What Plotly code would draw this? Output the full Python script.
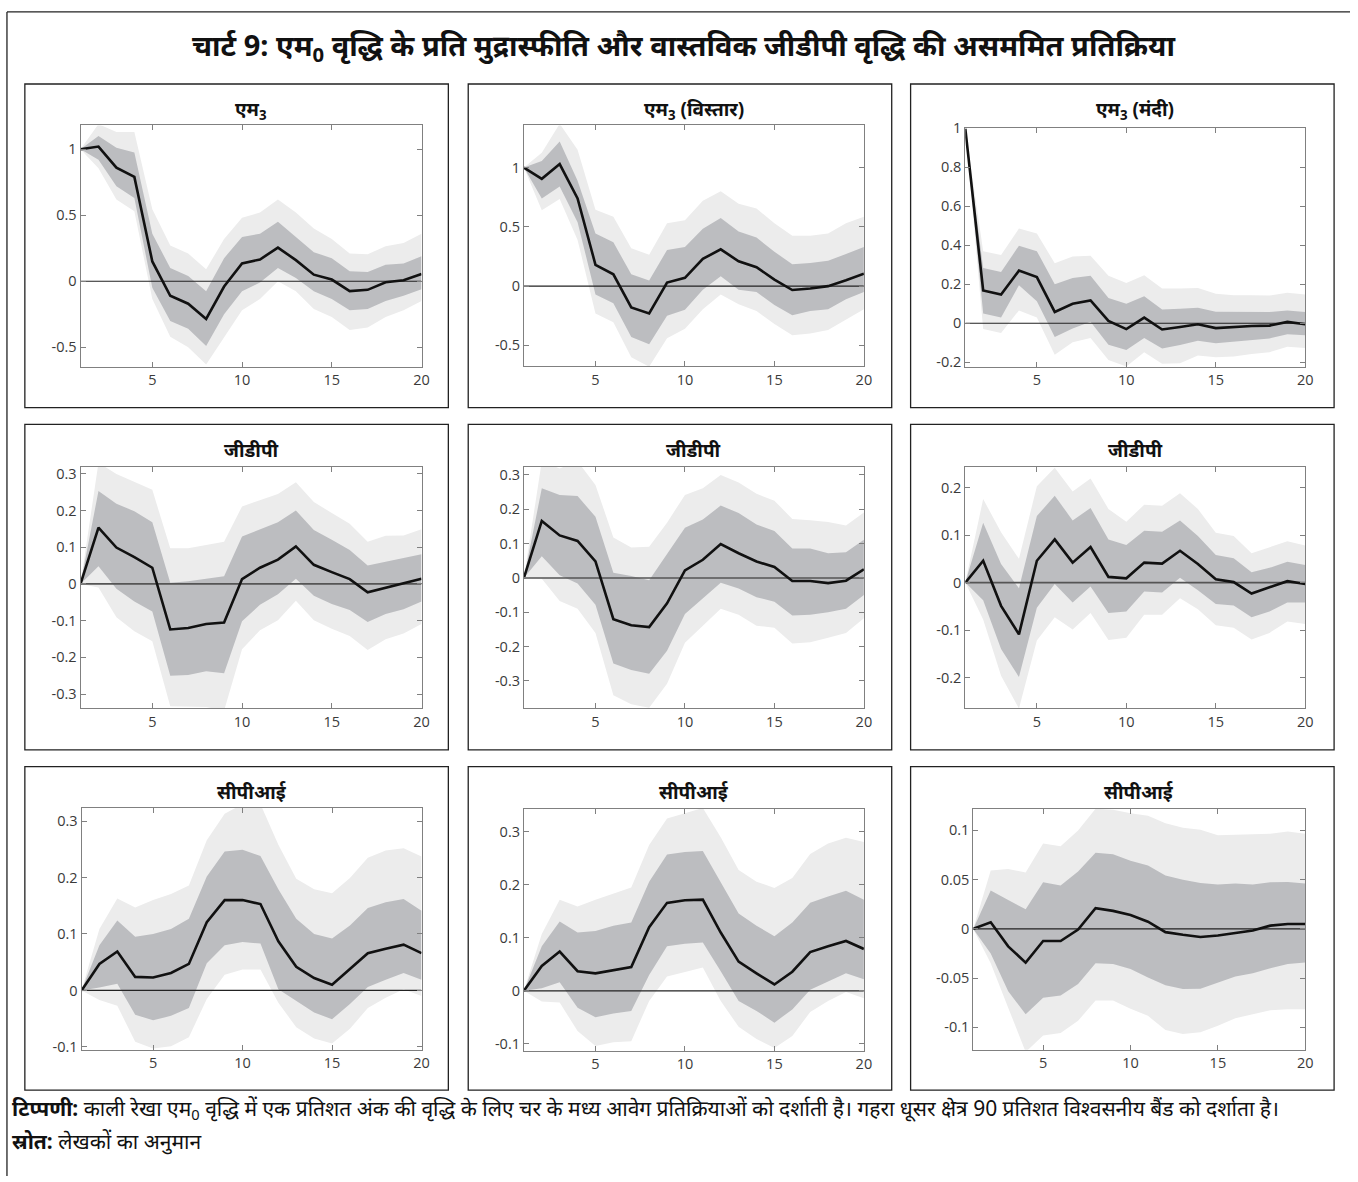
import plotly.graph_objects as go

W, H = 1358, 1182

# Horizon (quarters)
horizon = list(range(1, 21))

# ---- M3 : full sample / expansion / recession ----
m3_all_mid = [1.0, 1.02, 0.86, 0.79, 0.15, -0.11, -0.17, -0.285, -0.04, 0.135, 0.165, 0.255, 0.16, 0.05, 0.013, -0.075, -0.065, -0.008, 0.008, 0.055]
m3_all_dhi = [1.0, 1.10, 1.01, 0.975, 0.36, 0.10, 0.04, -0.075, 0.175, 0.335, 0.36, 0.45, 0.335, 0.22, 0.175, 0.075, 0.07, 0.125, 0.135, 0.19]
m3_all_dlo = [1.0, 0.92, 0.72, 0.63, -0.05, -0.30, -0.36, -0.49, -0.25, -0.075, -0.01, 0.10, 0.025, -0.075, -0.135, -0.22, -0.21, -0.15, -0.11, -0.06]
m3_all_lhi = [1.0, 1.19, 1.13, 1.13, 0.545, 0.27, 0.21, 0.09, 0.32, 0.48, 0.52, 0.62, 0.52, 0.40, 0.32, 0.21, 0.205, 0.265, 0.29, 0.36]
m3_all_llo = [1.0, 0.855, 0.62, 0.53, -0.135, -0.42, -0.50, -0.63, -0.42, -0.22, -0.135, 0.0, -0.075, -0.21, -0.27, -0.37, -0.35, -0.27, -0.22, -0.15]

m3_exp_mid = [1.0, 0.905, 1.03, 0.74, 0.18, 0.10, -0.18, -0.23, 0.03, 0.07, 0.23, 0.31, 0.21, 0.16, 0.055, -0.033, -0.02, 0.0, 0.05, 0.105]
m3_exp_dhi = [1.0, 1.055, 1.22, 0.89, 0.445, 0.37, 0.10, 0.047, 0.305, 0.33, 0.485, 0.575, 0.46, 0.41, 0.29, 0.185, 0.195, 0.215, 0.27, 0.33]
m3_exp_dlo = [1.0, 0.74, 0.84, 0.54, -0.07, -0.145, -0.43, -0.49, -0.25, -0.20, -0.03, 0.083, -0.03, -0.05, -0.16, -0.245, -0.21, -0.195, -0.11, -0.05]
m3_exp_lhi = [1.0, 1.125, 1.37, 1.15, 0.645, 0.585, 0.32, 0.265, 0.53, 0.555, 0.72, 0.80, 0.695, 0.655, 0.53, 0.425, 0.425, 0.445, 0.53, 0.585]
m3_exp_llo = [1.0, 0.64, 0.735, 0.39, -0.23, -0.305, -0.60, -0.68, -0.44, -0.36, -0.195, -0.07, -0.153, -0.21, -0.32, -0.415, -0.40, -0.37, -0.28, -0.195]

m3_rec_mid = [1.0, 0.168, 0.147, 0.27, 0.237, 0.058, 0.10, 0.117, 0.012, -0.03, 0.029, -0.032, -0.019, -0.005, -0.025, -0.019, -0.014, -0.012, 0.007, -0.005]
m3_rec_dhi = [1.0, 0.283, 0.263, 0.398, 0.37, 0.20, 0.232, 0.244, 0.13, 0.10, 0.139, 0.071, 0.075, 0.08, 0.059, 0.059, 0.059, 0.058, 0.066, 0.058]
m3_rec_dlo = [1.0, 0.05, 0.03, 0.195, 0.113, -0.07, -0.027, 0.008, -0.11, -0.137, -0.076, -0.129, -0.112, -0.09, -0.102, -0.095, -0.086, -0.078, -0.056, -0.061]
m3_rec_lhi = [1.0, 0.37, 0.35, 0.486, 0.46, 0.308, 0.342, 0.347, 0.244, 0.207, 0.246, 0.178, 0.178, 0.181, 0.151, 0.144, 0.144, 0.142, 0.156, 0.147]
m3_rec_llo = [1.0, -0.03, -0.05, 0.066, 0.029, -0.161, -0.098, -0.076, -0.188, -0.222, -0.149, -0.208, -0.205, -0.166, -0.175, -0.171, -0.158, -0.149, -0.12, -0.127]

# ---- GDP ----
gdp_all_mid = [0, 0.153, 0.099, 0.073, 0.044, -0.124, -0.12, -0.109, -0.105, 0.013, 0.044, 0.066, 0.102, 0.052, 0.032, 0.013, -0.023, -0.01, 0.002, 0.014]
gdp_all_dhi = [0, 0.253, 0.218, 0.198, 0.168, 0.003, 0.007, 0.014, 0.021, 0.129, 0.149, 0.168, 0.2, 0.147, 0.12, 0.092, 0.05, 0.061, 0.07, 0.081]
gdp_all_dlo = [0, 0.048, -0.013, -0.048, -0.075, -0.25, -0.248, -0.238, -0.243, -0.102, -0.057, -0.028, 0.014, -0.032, -0.055, -0.071, -0.104, -0.082, -0.069, -0.048]
gdp_all_lhi = [0, 0.33, 0.299, 0.278, 0.256, 0.097, 0.097, 0.106, 0.115, 0.211, 0.229, 0.245, 0.277, 0.223, 0.193, 0.164, 0.115, 0.131, 0.132, 0.149]
gdp_all_llo = [0, -0.01, -0.091, -0.129, -0.156, -0.333, -0.335, -0.335, -0.345, -0.178, -0.126, -0.099, -0.046, -0.099, -0.122, -0.142, -0.18, -0.151, -0.135, -0.109]

gdp_exp_mid = [0, 0.166, 0.124, 0.108, 0.048, -0.12, -0.138, -0.143, -0.074, 0.022, 0.053, 0.099, 0.072, 0.048, 0.032, -0.009, -0.009, -0.015, -0.008, 0.025]
gdp_exp_dhi = [0, 0.261, 0.242, 0.239, 0.178, 0.015, 0.006, -0.007, 0.07, 0.146, 0.17, 0.211, 0.189, 0.156, 0.137, 0.086, 0.086, 0.072, 0.075, 0.111]
gdp_exp_dlo = [0, 0.063, 0.008, -0.016, -0.078, -0.249, -0.268, -0.279, -0.212, -0.105, -0.059, -0.014, -0.031, -0.056, -0.069, -0.109, -0.107, -0.1, -0.09, -0.05]
gdp_exp_lhi = [0, 0.34, 0.319, 0.34, 0.271, 0.118, 0.089, 0.091, 0.161, 0.242, 0.261, 0.3, 0.278, 0.245, 0.225, 0.172, 0.168, 0.163, 0.153, 0.191]
gdp_exp_llo = [0, -0.002, -0.067, -0.09, -0.16, -0.342, -0.368, -0.378, -0.308, -0.189, -0.141, -0.09, -0.107, -0.139, -0.145, -0.191, -0.187, -0.174, -0.16, -0.117]

gdp_rec_mid = [0, 0.046, -0.049, -0.109, 0.046, 0.091, 0.042, 0.075, 0.012, 0.009, 0.042, 0.04, 0.067, 0.039, 0.007, 0.001, -0.023, -0.01, 0.003, -0.003]
gdp_rec_dhi = [0, 0.126, 0.039, -0.012, 0.14, 0.183, 0.131, 0.157, 0.091, 0.079, 0.109, 0.107, 0.131, 0.098, 0.058, 0.051, 0.022, 0.031, 0.044, 0.037]
gdp_rec_dlo = [0, -0.037, -0.14, -0.199, -0.053, -0.003, -0.042, -0.008, -0.064, -0.061, -0.019, -0.021, 0.01, -0.016, -0.045, -0.048, -0.073, -0.061, -0.042, -0.042]
gdp_rec_lhi = [0, 0.176, 0.106, 0.05, 0.203, 0.242, 0.192, 0.219, 0.155, 0.128, 0.164, 0.162, 0.188, 0.155, 0.105, 0.098, 0.062, 0.074, 0.087, 0.078]
gdp_rec_llo = [0, -0.078, -0.196, -0.265, -0.122, -0.073, -0.099, -0.064, -0.121, -0.116, -0.068, -0.068, -0.033, -0.056, -0.09, -0.095, -0.12, -0.106, -0.082, -0.087]

# ---- CPI ----
cpi_all_mid = [0, 0.047, 0.069, 0.024, 0.023, 0.031, 0.047, 0.121, 0.16, 0.16, 0.153, 0.087, 0.042, 0.022, 0.01, 0.038, 0.066, 0.074, 0.081, 0.066]
cpi_all_dhi = [0, 0.08, 0.124, 0.095, 0.1, 0.109, 0.127, 0.202, 0.246, 0.249, 0.238, 0.179, 0.127, 0.1, 0.092, 0.115, 0.146, 0.156, 0.162, 0.141]
cpi_all_dlo = [0, 0.005, 0.012, -0.043, -0.053, -0.045, -0.031, 0.048, 0.08, 0.086, 0.083, 0.002, -0.019, -0.039, -0.051, -0.024, 0.006, 0.019, 0.031, 0.019]
cpi_all_lhi = [0, 0.109, 0.163, 0.147, 0.16, 0.171, 0.186, 0.266, 0.313, 0.33, 0.33, 0.258, 0.198, 0.179, 0.172, 0.199, 0.235, 0.248, 0.252, 0.237]
cpi_all_llo = [0, -0.017, -0.027, -0.091, -0.103, -0.099, -0.083, -0.015, 0.028, 0.037, 0.037, -0.022, -0.065, -0.085, -0.094, -0.068, -0.031, -0.013, 0.002, -0.01]

cpi_exp_mid = [0, 0.047, 0.074, 0.037, 0.033, 0.039, 0.045, 0.12, 0.166, 0.171, 0.172, 0.11, 0.055, 0.033, 0.012, 0.036, 0.073, 0.084, 0.094, 0.079]
cpi_exp_dhi = [0, 0.084, 0.131, 0.11, 0.113, 0.123, 0.129, 0.206, 0.257, 0.262, 0.264, 0.205, 0.146, 0.123, 0.103, 0.129, 0.166, 0.178, 0.189, 0.172]
cpi_exp_dlo = [0, 0.005, 0.016, -0.032, -0.05, -0.043, -0.038, 0.03, 0.084, 0.089, 0.091, 0.037, -0.019, -0.038, -0.06, -0.035, 0.002, 0.017, 0.033, 0.022]
cpi_exp_lhi = [0, 0.107, 0.172, 0.159, 0.172, 0.184, 0.195, 0.275, 0.325, 0.335, 0.345, 0.29, 0.228, 0.206, 0.194, 0.213, 0.258, 0.278, 0.289, 0.281]
cpi_exp_llo = [0, -0.02, -0.022, -0.076, -0.104, -0.097, -0.095, -0.019, 0.027, 0.036, 0.044, -0.019, -0.068, -0.091, -0.108, -0.085, -0.04, -0.019, -0.002, -0.014]

cpi_rec_mid = [0, 0.0067, -0.0177, -0.0343, -0.0123, -0.0123, -0.0007, 0.021, 0.0183, 0.014, 0.0073, -0.0033, -0.006, -0.0083, -0.0067, -0.004, -0.0017, 0.0033, 0.005, 0.005]
cpi_rec_dhi = [0, 0.039, 0.0293, 0.02, 0.0473, 0.044, 0.0583, 0.0773, 0.0757, 0.0693, 0.0643, 0.0543, 0.05, 0.0467, 0.045, 0.046, 0.045, 0.0473, 0.0477, 0.046]
cpi_rec_dlo = [0, -0.025, -0.0633, -0.0867, -0.07, -0.0677, -0.056, -0.035, -0.0357, -0.0407, -0.0493, -0.0573, -0.061, -0.0607, -0.0543, -0.0483, -0.045, -0.04, -0.0357, -0.034]
cpi_rec_lhi = [0, 0.0593, 0.0607, 0.0573, 0.0867, 0.084, 0.1, 0.122, 0.121, 0.1173, 0.115, 0.1073, 0.1027, 0.1007, 0.095, 0.0957, 0.0957, 0.0967, 0.099, 0.0967]
cpi_rec_llo = [0, -0.035, -0.08, -0.125, -0.1083, -0.1057, -0.0933, -0.0727, -0.0727, -0.081, -0.0883, -0.1027, -0.1067, -0.105, -0.0983, -0.0907, -0.0867, -0.0827, -0.0817, -0.0817]

# Tick labels
x_ticks = [5, 10, 15, 20]
y_ticks_m3 = [-0.5, 0, 0.5, 1]
y_ticks_m3_rec = [-0.2, 0, 0.2, 0.4, 0.6, 0.8, 1]
y_ticks_gdp = [-0.3, -0.2, -0.1, 0, 0.1, 0.2, 0.3]
y_ticks_gdp_rec = [-0.2, -0.1, 0, 0.1, 0.2]
y_ticks_cpi = [-0.1, 0, 0.1, 0.2, 0.3]
y_ticks_cpi_rec = [-0.1, -0.05, 0, 0.05, 0.1]

titles = ["<b>एम<sub>3</sub></b>", "<b>एम<sub>3</sub> (विस्तार)</b>", "<b>एम<sub>3</sub> (मंदी)</b>",
          "<b>जीडीपी</b>", "<b>जीडीपी</b>", "<b>जीडीपी</b>",
          "<b>सीपीआई</b>", "<b>सीपीआई</b>", "<b>सीपीआई</b>"]


def fmt(v):
    return "%g" % v


# (series..., y range, y ticks, plot rect in px: left, top, right, bottom)
panels = [
    (m3_all_mid, m3_all_dlo, m3_all_dhi, m3_all_llo, m3_all_lhi, [-0.65, 1.18], y_ticks_m3, (81, 117, 424, 362)),
    (m3_exp_mid, m3_exp_dlo, m3_exp_dhi, m3_exp_llo, m3_exp_lhi, [-0.675, 1.356], y_ticks_m3, (527, 117, 869, 361)),
    (m3_rec_mid, m3_rec_dlo, m3_rec_dhi, m3_rec_llo, m3_rec_lhi, [-0.225, 1.0], y_ticks_m3_rec, (971, 120, 1313, 362)),
    (gdp_all_mid, gdp_all_dlo, gdp_all_dhi, gdp_all_llo, gdp_all_lhi, [-0.339, 0.319], y_ticks_gdp, (81, 463, 424, 708)),
    (gdp_exp_mid, gdp_exp_dlo, gdp_exp_dhi, gdp_exp_llo, gdp_exp_lhi, [-0.38, 0.324], y_ticks_gdp, (527, 463, 869, 708)),
    (gdp_rec_mid, gdp_rec_dlo, gdp_rec_dhi, gdp_rec_llo, gdp_rec_lhi, [-0.265, 0.244], y_ticks_gdp_rec, (971, 463, 1313, 708)),
    (cpi_all_mid, cpi_all_dlo, cpi_all_dhi, cpi_all_llo, cpi_all_lhi, [-0.105, 0.323], y_ticks_cpi, (82, 809, 424, 1054)),
    (cpi_exp_mid, cpi_exp_dlo, cpi_exp_dhi, cpi_exp_llo, cpi_exp_lhi, [-0.113, 0.343], y_ticks_cpi, (527, 810, 869, 1055)),
    (cpi_rec_mid, cpi_rec_dlo, cpi_rec_dhi, cpi_rec_llo, cpi_rec_lhi, [-0.1227, 0.1217], y_ticks_cpi_rec, (979, 810, 1313, 1054)),
]

# Panel frames (px)
boxes = [(25, 75, 451, 403), (471, 75, 897, 403), (916, 75, 1342, 403),
         (25, 420, 451, 750), (471, 420, 897, 750), (916, 420, 1342, 750),
         (25, 767, 451, 1095), (471, 767, 897, 1095), (916, 767, 1342, 1095)]
title_y = [101, 101, 101, 446, 446, 446, 793, 793, 793]

LIGHT = "#ececec"
DARK = "#bcbdc0"
AXIS = "#808080"


def fx(px):
    return px / W


def fy(py):
    return 1 - py / H


fig = go.Figure()
layout = dict()
annotations = []
shapes = []

for i, (mid, dlo, dhi, llo, lhi, yr, yt, rect) in enumerate(panels):
    n = i + 1
    xa = "x" if n == 1 else f"x{n}"
    ya = "y" if n == 1 else f"y{n}"
    xkey = "xaxis" if n == 1 else f"xaxis{n}"
    ykey = "yaxis" if n == 1 else f"yaxis{n}"
    band_x = horizon + horizon[::-1]

    fig.add_trace(go.Scatter(x=band_x, y=lhi + llo[::-1], fill="toself", fillcolor=LIGHT,
                             line=dict(width=0), mode="lines", hoverinfo="skip",
                             showlegend=False, xaxis=xa, yaxis=ya))
    fig.add_trace(go.Scatter(x=band_x, y=dhi + dlo[::-1], fill="toself", fillcolor=DARK,
                             line=dict(width=0), mode="lines", hoverinfo="skip",
                             showlegend=False, xaxis=xa, yaxis=ya))
    # zero reference line (the GDP row draws it a little heavier and greyer)
    zcol, zw = ("#555555", 1.6) if 3 <= i <= 5 else ("#222222", 1.2)
    fig.add_trace(go.Scatter(x=[horizon[0], horizon[-1]], y=[0, 0], mode="lines",
                             line=dict(color=zcol, width=zw), hoverinfo="skip",
                             showlegend=False, xaxis=xa, yaxis=ya))
    fig.add_trace(go.Scatter(x=horizon, y=mid, mode="lines",
                             line=dict(color="#111111", width=2.6), showlegend=False,
                             xaxis=xa, yaxis=ya))

    l, t, r, b = rect
    common = dict(showline=True, linecolor=AXIS, linewidth=1, mirror="ticks",
                  ticks="inside", ticklen=5, tickcolor=AXIS, showgrid=False,
                  zeroline=False, tickfont=dict(family="Open Sans", size=14.5, color="#3a3a3a"))
    layout[xkey] = dict(common, domain=[fx(l), fx(r)], anchor=ya, range=[1, 20],
                        tickvals=x_ticks, ticktext=[str(v) for v in x_ticks])
    layout[ykey] = dict(common, domain=[fy(b), fy(t)], anchor=xa, range=yr,
                        tickvals=yt, ticktext=[fmt(v) for v in yt])

    annotations.append(dict(text=titles[i], xref="paper", yref="paper",
                            x=fx((l + r) / 2), y=fy(title_y[i]), xanchor="center", yanchor="middle",
                            showarrow=False, font=dict(family="Noto Sans", size=19, color="#111")))

    bl, bt, br, bb = boxes[i]
    shapes.append(dict(type="rect", xref="paper", yref="paper", x0=fx(bl), x1=fx(br),
                       y0=fy(bb), y1=fy(bt), line=dict(color="#222", width=1.3)))

# Outer frame
shapes.append(dict(type="line", xref="paper", yref="paper", x0=fx(7), x1=fx(7), y0=0, y1=fy(2),
                   line=dict(color="#222", width=1.3)))
shapes.append(dict(type="line", xref="paper", yref="paper", x0=fx(7), x1=1, y0=fy(2), y1=fy(2),
                   line=dict(color="#222", width=1.3)))

annotations.append(dict(
    text="<b>चार्ट 9: एम<sub>0</sub> वृद्धि के प्रति मुद्रास्फीति और वास्तविक जीडीपी वृद्धि की असममित प्रतिक्रिया</b>",
    xref="paper", yref="paper", x=fx(688), y=fy(37), xanchor="center", yanchor="middle",
    showarrow=False, font=dict(family="Noto Sans", size=29, color="#111")))
annotations.append(dict(
    text="<b>टिप्पणी:</b> काली रेखा एम<sub>0</sub> वृद्धि में एक प्रतिशत अंक की वृद्धि के लिए चर के मध्य आवेग प्रतिक्रियाओं को दर्शाती है। गहरा धूसर क्षेत्र 90 प्रतिशत विश्वसनीय बैंड को दर्शाता है।",
    xref="paper", yref="paper", x=fx(10), y=fy(1114), xanchor="left", yanchor="middle",
    showarrow=False, font=dict(family="Noto Sans", size=21, color="#111")))
annotations.append(dict(
    text="<b>स्रोत:</b> लेखकों का अनुमान",
    xref="paper", yref="paper", x=fx(10), y=fy(1147), xanchor="left", yanchor="middle",
    showarrow=False, font=dict(family="Noto Sans", size=21, color="#111")))

fig.update_layout(width=W, height=H, margin=dict(l=0, r=0, t=0, b=0),
                  paper_bgcolor="white", plot_bgcolor="white",
                  annotations=annotations, shapes=shapes, showlegend=False, **layout)

fig.write_html("out.html")
